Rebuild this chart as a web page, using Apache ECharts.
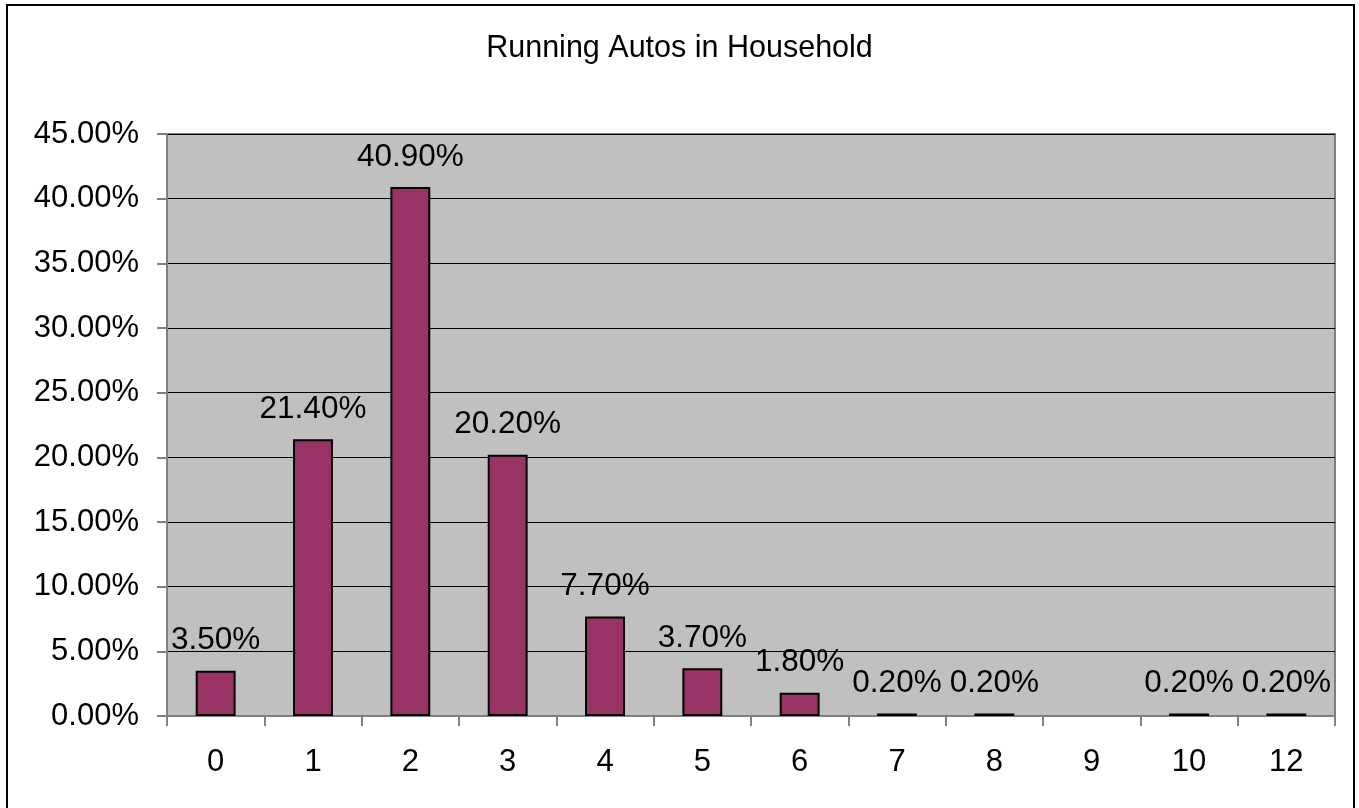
<!DOCTYPE html>
<html>
<head>
<meta charset="utf-8">
<style>
  html, body { margin: 0; padding: 0; background: #ffffff; }
  #chart { width: 1359px; height: 808px; }
</style>
<script src="https://cdn.jsdelivr.net/npm/echarts@6/dist/echarts.min.js"></script>
</head>
<body>
<div id="chart"></div>
<script>
const titleText = 'Running Autos in Household';
const categories = ['0', '1', '2', '3', '4', '5', '6', '7', '8', '9', '10', '12'];
const percentValues = [3.5, 21.4, 40.9, 20.2, 7.7, 3.7, 1.8, 0.2, 0.2, null, 0.2, 0.2];
const yMin = 0, yMax = 45, yInterval = 5;

const chart = echarts.init(document.getElementById('chart'), null, { renderer: 'canvas' });
const fontFamily = '"Liberation Sans", Arial, sans-serif';

chart.setOption({
  animation: false,
  backgroundColor: '#ffffff',
  graphic: [{
    type: 'rect',
    shape: { x: 7, y: 5, width: 1347, height: 820 },
    style: { fill: 'none', stroke: '#000000', lineWidth: 2 },
    silent: true,
    z: 100
  }],
  title: {
    text: titleText,
    left: 'center',
    top: 28,
    textStyle: { fontFamily, fontSize: 30.5, fontWeight: 'normal', color: '#000000' }
  },
  grid: {
    left: 167, right: 24, top: 134, bottom: 92,
    show: true,
    backgroundColor: '#C0C0C0',
    borderColor: '#808080',
    borderWidth: 2
  },
  xAxis: {
    type: 'category',
    data: categories,
    axisLine: { show: true, lineStyle: { color: '#808080', width: 2 } },
    axisTick: { show: true, alignWithLabel: false, length: 10, lineStyle: { color: '#808080', width: 2 } },
    axisLabel: { margin: 31, fontFamily, fontSize: 31, color: '#000000' },
    splitLine: { show: false }
  },
  yAxis: {
    type: 'value',
    min: yMin, max: yMax, interval: yInterval,
    axisLine: { show: true, lineStyle: { color: '#808080', width: 2 } },
    axisTick: { show: true, length: 10, lineStyle: { color: '#808080', width: 2 } },
    axisLabel: {
      margin: 28, fontFamily, fontSize: 31, color: '#000000',
      formatter: v => v.toFixed(2) + '%'
    },
    splitLine: { show: true, lineStyle: { color: '#000000', width: 1 } }
  },
  series: [{
    type: 'bar',
    data: percentValues,
    barWidth: '41%',
    itemStyle: { color: '#993366', borderColor: '#000000', borderWidth: 2 },
    label: {
      show: true,
      position: 'top',
      distance: 14,
      fontFamily, fontSize: 31.5, color: '#000000',
      formatter: p => (p.value == null ? '' : p.value.toFixed(2) + '%')
    }
  }]
});
</script>
</body>
</html>
